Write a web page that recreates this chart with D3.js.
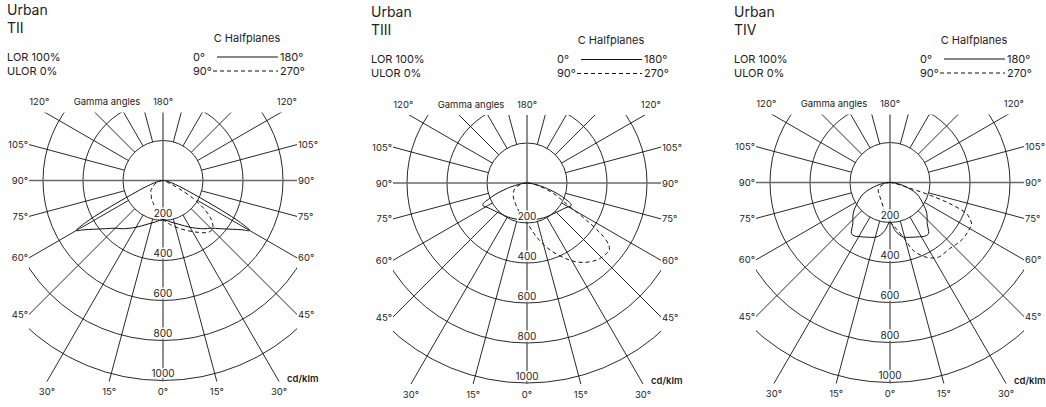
<!DOCTYPE html>
<html>
<head>
<meta charset="utf-8">
<script src="https://cdn.jsdelivr.net/npm/d3@7/dist/d3.min.js"></script>
<style>
  body { margin: 0; background: #fff; }
  text { font-family: Inter, "Noto Sans", sans-serif; fill: #222; }
  .ring { stroke: #fff; stroke-width: 3px; paint-order: stroke; stroke-linejoin: round; }
</style>
</head>
<body>
<script>
// panels
let panelNames = ['TII', 'TIII', 'TIV'];
let panelX = [163, 527, 890];
let panelY = [180.5, 183, 182.5];

// texts
let family = 'Urban';
let lorText = ['LOR 100%', 'ULOR 0%'];
let legendTitle = 'C Halfplanes';
let legendLeft = ['0°', '90°'];
let legendRight = ['180°', '270°'];

// radial scale cd/klm
let ringValues = [200, 400, 600, 800, 1000];
let gammaGrid = [15, 30, 45, 60, 75, 105, 120, 135, 150, 165];
let gammaLabels = [15, 30, 45, 60, 75, 90, 105, 120];

// TII  (C0/C180 symmetric, C90 right, C270 left)
let tiiSolidG = [0, 10, 20, 30, 40, 45, 50, 55, 58, 60, 61.5, 63, 66, 70, 75, 80, 85, 90];
let tiiSolidV = [195, 210, 233, 270, 315, 337, 375, 425, 465, 500, 440, 330, 170, 90, 45, 20, 8, 0];
let tiiC90G = [0, 5, 10, 20, 30, 35, 40, 44, 48, 52, 56, 60, 63, 66, 70, 80, 90];
let tiiC90V = [195, 210, 225, 257, 295, 317, 340, 348, 336, 300, 240, 160, 90, 45, 20, 5, 0];
let tiiC270G = [0, 5, 10, 17, 25, 30, 41, 50, 56, 60, 70, 80, 90];
let tiiC270V = [195, 185, 165, 140, 120, 113, 90, 80, 65, 60, 35, 12, 0];

// TIII
let tiiiSolidG = [0, 10, 20, 30, 40, 50, 55, 60, 63, 65, 67, 70, 73, 76, 79, 85, 90];
let tiiiSolidV = [185, 186, 190, 195, 202, 215, 224, 238, 248, 240, 210, 170, 125, 90, 55, 15, 0];
let tiiiC90G = [0, 10, 19, 29, 35, 42, 47, 51, 53, 55, 58, 61, 65, 68.6, 73, 78, 84, 90];
let tiiiC90V = [198, 273, 354, 441, 485, 519, 530, 530, 510, 466, 351, 245, 180, 141, 90, 50, 18, 0];
let tiiiC270G = [0, 6, 15, 23.5, 35, 45, 55, 66, 75, 82, 90];
let tiiiC270V = [198, 175, 150, 129, 110, 97, 82, 66, 40, 18, 0];

// TIV
let tivSolidG = [0, 6, 10, 14, 23, 30, 33, 37, 42, 50, 57, 67, 77, 85, 90];
let tivSolidV = [198, 241, 265, 281, 297, 312, 320, 320, 278, 240, 198, 145, 68, 20, 0];
let tivC90G = [0, 4.4, 13.7, 19, 26, 33, 42, 47, 52, 56, 60, 63, 65, 67.8, 70.5, 72.5, 74, 77, 82, 90];
let tivC90V = [198, 216, 281, 360, 416, 445, 445, 453, 460, 461, 460, 458, 443, 414, 318, 200, 100, 40, 12, 0];
let tivC270G = [0, 5.5, 15, 34, 50, 61.5, 72, 80, 90];
let tivC270V = [198, 174, 128, 89, 75, 66, 40, 18, 0];

let solidG = [tiiSolidG, tiiiSolidG, tivSolidG];
let solidV = [tiiSolidV, tiiiSolidV, tivSolidV];
let c90G = [tiiC90G, tiiiC90G, tivC90G];
let c90V = [tiiC90V, tiiiC90V, tivC90V];
let c270G = [tiiC270G, tiiiC270G, tivC270G];
let c270V = [tiiC270V, tiiiC270V, tivC270V];

let r = d3.scaleLinear().domain([0, 1000]).range([0, 200]);
let rad = d3.scaleLinear().domain([0, 180]).range([0, Math.PI]);

// clip box around each centre
let boxL = -134, boxR = 134, boxT = -68, boxB = 201;

let svg = d3.select('body').append('svg')
  .attr('width', 1046)
  .attr('height', 407);

// point of a gamma ray on side s (+1 right, -1 left) at radius px
function pt(g, s, px) {
  return [s * px * Math.sin(rad(g)), px * Math.cos(rad(g))];
}

// distance along ray until it leaves the box
function rayEnd(g, s) {
  let sx = s * Math.sin(rad(g)), cy = Math.cos(rad(g));
  let t = 1e9, edge = '';
  if (Math.abs(sx) > 1e-6) {
    let tx = (sx > 0 ? boxR : -boxL) / Math.abs(sx);
    if (tx < t) { t = tx; edge = sx > 0 ? 'right' : 'left'; }
  }
  if (Math.abs(cy) > 1e-6) {
    let ty = (cy > 0 ? boxB : -boxT) / Math.abs(cy);
    if (ty < t) { t = ty; edge = cy > 0 ? 'bottom' : 'top'; }
  }
  return { t: t, edge: edge };
}

let line = d3.lineRadial()
  .angle(d => d.a)
  .radius(d => r(d.v))
  .curve(d3.curveCatmullRom.alpha(0.5));

function curvePoints(gl, vl, gr, vr) {
  let pts = [];
  for (let i = gl.length - 1; i >= 0; i--) pts.push({ a: Math.PI + rad(gl[i]), v: vl[i] });
  for (let i = 1; i < gr.length; i++) pts.push({ a: Math.PI - rad(gr[i]), v: vr[i] });
  return pts;
}

panelNames.forEach(function(name, p) {
  let g = svg.append('g').attr('transform', 'translate(' + panelX[p] + ',' + panelY[p] + ')');

  svg.append('clipPath').attr('id', 'clip' + p)
    .append('rect')
    .attr('x', boxL).attr('y', boxT)
    .attr('width', boxR - boxL).attr('height', boxB - boxT);

  let grid = g.append('g').attr('clip-path', 'url(#clip' + p + ')');

  // rings
  grid.selectAll('circle')
    .data(ringValues)
    .enter().append('circle')
    .attr('r', d => r(d))
    .attr('fill', 'none')
    .attr('stroke', '#111')
    .attr('stroke-width', 0.9);

  // radial gamma lines, starting at inner ring
  [-1, 1].forEach(function(s) {
    grid.selectAll('line.ray' + (s > 0 ? 'r' : 'l'))
      .data(gammaGrid)
      .enter().append('line')
      .attr('class', 'ray' + (s > 0 ? 'r' : 'l'))
      .attr('x1', d => pt(d, s, r(ringValues[0]))[0])
      .attr('y1', d => pt(d, s, r(ringValues[0]))[1])
      .attr('x2', d => pt(d, s, 400)[0])
      .attr('y2', d => pt(d, s, 400)[1])
      .attr('stroke', '#111')
      .attr('stroke-width', 0.9);
  });

  // main axes 0-180 and 90-90
  grid.append('line')
    .attr('x1', 0).attr('x2', 0)
    .attr('y1', pt(180, 1, 400)[1]).attr('y2', pt(0, 1, 400)[1])
    .attr('stroke', '#6a6a6a').attr('stroke-width', 1.5);
  grid.append('line')
    .attr('x1', pt(90, -1, 400)[0]).attr('x2', pt(90, 1, 400)[0])
    .attr('y1', 0).attr('y2', 0)
    .attr('stroke', '#6a6a6a').attr('stroke-width', 1.5);

  // intensity curves
  g.append('path')
    .attr('d', line(curvePoints(solidG[p], solidV[p], solidG[p], solidV[p])))
    .attr('fill', 'none').attr('stroke', '#111').attr('stroke-width', 1);
  g.append('path')
    .attr('d', line(curvePoints(c270G[p], c270V[p], c90G[p], c90V[p])))
    .attr('fill', 'none').attr('stroke', '#111').attr('stroke-width', 1)
    .attr('stroke-dasharray', '4,3');

  // ring labels (white halo hides the axis behind them)
  g.selectAll('text.ring')
    .data(ringValues)
    .enter().append('text')
    .attr('class', 'ring')
    .attr('x', 0)
    .attr('y', d => r(d) - 3.5)
    .attr('text-anchor', 'middle')
    .attr('font-size', 10)
    .text(d => d);

  // gamma labels
  [-1, 1].forEach(function(s) {
    gammaLabels.forEach(function(d) {
      let e = rayEnd(d, s);
      let q = pt(d, s, e.t);
      let t = g.append('text').attr('font-size', 9.5).text(d + '°');
      if (e.edge == 'left') t.attr('x', q[0] - 1).attr('y', q[1] + 3.5).attr('text-anchor', 'end');
      else if (e.edge == 'right') t.attr('x', q[0] + 1).attr('y', q[1] + 3.5).attr('text-anchor', 'start');
      else if (e.edge == 'top') t.attr('x', q[0] + s * 6).attr('y', boxT - 7.5).attr('text-anchor', 'middle');
      else t.attr('x', q[0]).attr('y', boxB + 13.5).attr('text-anchor', 'middle');
    });
  });
  g.append('text').attr('font-size', 9.5).attr('text-anchor', 'middle')
    .attr('x', 0).attr('y', boxB + 13.5).text('0°');
  g.append('text').attr('font-size', 9.5).attr('text-anchor', 'middle')
    .attr('x', 0).attr('y', boxT - 7.5).text('180°');
  g.append('text').attr('font-size', 9.5).attr('text-anchor', 'middle')
    .attr('x', -56).attr('y', boxT - 7.5).text('Gamma angles');
  g.append('text').attr('font-size', 9.5).attr('font-weight', 600)
    .attr('x', 124).attr('y', boxB).text('cd/klm');

  // header
  g.append('text').attr('font-size', 14).attr('x', -156).attr('y', -166).text(family);
  g.append('text').attr('font-size', 14).attr('x', -156).attr('y', -148).text(name);
  g.selectAll('text.lor')
    .data(lorText)
    .enter().append('text')
    .attr('class', 'lor')
    .attr('font-size', 11)
    .attr('x', -156)
    .attr('y', (d, i) => -120 + i * 14)
    .text(d => d);

  // legend
  g.append('text').attr('font-size', 11).attr('text-anchor', 'middle')
    .attr('x', 84).attr('y', -139).text(legendTitle);
  legendLeft.forEach(function(d, i) {
    g.append('text').attr('font-size', 11).attr('x', 30).attr('y', -120 + i * 14).text(d);
    g.append('text').attr('font-size', 11).attr('x', 117).attr('y', -120 + i * 14).text(legendRight[i]);
    g.append('line')
      .attr('x1', i == 0 ? 54 : 50).attr('x2', 115)
      .attr('y1', -123.5 + i * 14).attr('y2', -123.5 + i * 14)
      .attr('stroke', '#111').attr('stroke-width', 1)
      .attr('stroke-dasharray', i == 0 ? null : '4,3');
  });
});
</script>
</body>
</html>
